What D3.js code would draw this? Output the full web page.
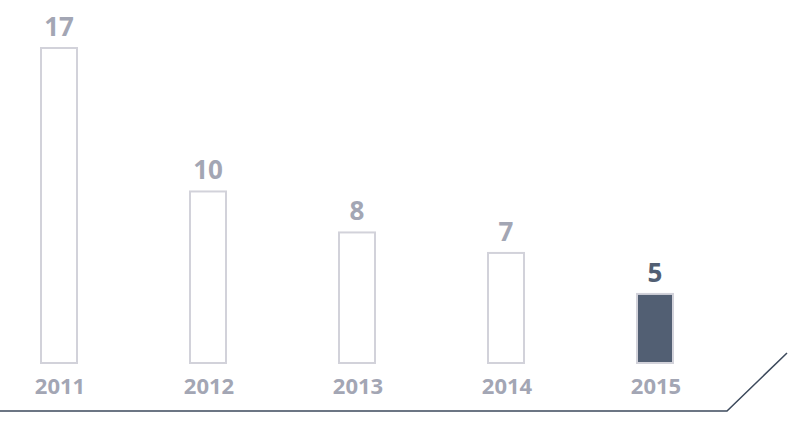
<!DOCTYPE html>
<html>
<head>
<meta charset="utf-8">
<script src="https://cdn.jsdelivr.net/npm/d3@7"></script>
<style>
  body { margin: 0; background: #fff; }
  text { font-family: "Open Sans", sans-serif; font-weight: 700; }
</style>
</head>
<body>
<div id="chart-area"></div>
<script>
// data
let years = ["2011", "2012", "2013", "2014", "2015"];
let counts = [17, 10, 8, 7, 5];
let highlightYear = "2015";

let width = 795, height = 421;

let svg = d3.select("#chart-area").append("svg")
    .attr("width", width)
    .attr("height", height);

// scales
let x = d3.scalePoint()
    .domain(years)
    .range([59, 655]);

let y = d3.scaleLinear()
    .domain([1.63, 17])
    .range([363, 48]);

let barW = 36;

svg.selectAll(".bar")
    .data(years)
  .enter().append("rect")
    .attr("class", "bar")
    .attr("x", d => x(d) - barW / 2)
    .attr("y", (d, i) => y(counts[i]))
    .attr("width", barW)
    .attr("height", (d, i) => 363 - y(counts[i]))
    .attr("fill", d => d == highlightYear ? "#525f73" : "#fff")
    .attr("stroke", "#d2d2da")
    .attr("stroke-width", 2);

svg.selectAll(".val")
    .data(years)
  .enter().append("text")
    .attr("class", "val")
    .attr("x", d => x(d))
    .attr("y", (d, i) => y(counts[i]) - 12)
    .attr("text-anchor", "middle")
    .attr("font-size", 26)
    .attr("fill", d => d == highlightYear ? "#525f73" : "#a3a6b4")
    .text((d, i) => counts[i]);

svg.selectAll(".year")
    .data(years)
  .enter().append("text")
    .attr("class", "year")
    .attr("x", d => x(d) + 1)
    .attr("y", 394)
    .attr("text-anchor", "middle")
    .attr("font-size", 22)
    .attr("fill", "#a3a6b4")
    .text(d => d);

// base line
svg.append("path")
    .attr("d", "M0,411 L727,411 L787,353")
    .attr("fill", "none")
    .attr("stroke", "#3d4a5c")
    .attr("stroke-width", 1.5);
</script>
</body>
</html>
